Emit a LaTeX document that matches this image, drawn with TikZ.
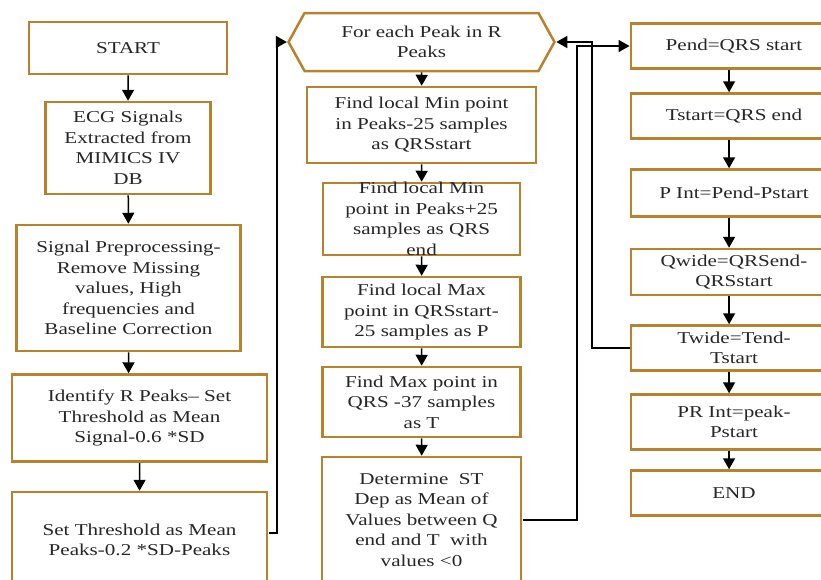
\documentclass[tikz,border=0pt]{standalone}
\usepackage{fontspec}
\setmainfont{Liberation Serif}
\usepackage{xcolor}
\usetikzlibrary{arrows.meta}
\usetikzlibrary{shapes.symbols}
\definecolor{bx}{HTML}{B8822C}

\begin{document}
\begin{tikzpicture}[
      x = 0.7874pt, % one unit = one pixel, before the stretch
      y = -1pt,
      xscale = 1.27, % wide letters, as in the scan
      transform shape,
      > = {Triangle[length=11pt, width=12pt]}, % arrow head style
      line width = 1.5pt, % line style
      font = \fontsize{16.6}{20.5}\selectfont,
    ]

    \tikzstyle{box}=[
      draw = bx,
      line width = 2.5pt,
      fill = white,
      text = black!85,
      align = center,
      inner sep = 0pt
    ]

    \useasboundingbox (0,0) rectangle (821,579);

    % left column
    \node[box, minimum width=155.9pt, minimum height=52pt] (start) [at={(128,48)}] {START};
    \node[box, minimum width=129.9pt, minimum height=92pt] (ecg) [at={(128,148)}] {ECG Signals\\Extracted from\\MIMICS IV\\DB};
    \node[box, minimum width=176.4pt, minimum height=126pt] (prep) [at={(128.5,288)}] {Signal Preprocessing-\\Remove Missing\\values, High\\frequencies and\\Baseline Correction};
    \node[box, minimum width=200.8pt, minimum height=87pt] (ridf) [at={(139.5,418)}] {Identify R Peaks-- Set\\Threshold as Mean\\Signal-0.6 *SD};
    \node[box, minimum width=200.8pt, minimum height=96pt] (thr) [at={(139.5,540)}] {Set Threshold as Mean\\Peaks-0.2 *SD-Peaks};

    % middle column
    \node[box, signal, signal to=west and east, signal pointer angle=133, minimum width=209.4pt, minimum height=58pt] (hex) [at={(421.5,42)}] {For each Peak in R\\Peaks};
    \node[box, minimum width=180.3pt, minimum height=76pt] (m1) [at={(421.5,125)}] {Find local Min point\\in Peaks-25 samples\\as QRSstart};
    \node[box, minimum width=155.1pt, minimum height=72pt,
      label={[align=center, text=black!85]center:Find local Min\\point in Peaks+25\\samples as QRS\\end}] (m2) [at={(421.5,219)}] {};
    \node[box, minimum width=155.9pt, minimum height=70pt] (m3) [at={(421.5,312)}] {Find local Max\\point in QRSstart-\\25 samples as P};
    \node[box, minimum width=155.9pt, minimum height=70pt] (m4) [at={(421.5,402)}] {Find Max point in\\QRS -37 samples\\as T};
    \node[box, minimum width=156.7pt, minimum height=126pt] (det) [at={(421.5,520)}] {Determine\ \ ST\\Dep as Mean of\\Values between Q\\end and T\ \ with\\values <0};

    % right column
    \node[box, minimum width=162.2pt, minimum height=45pt] (pend) [at={(734,46)}] {Pend=QRS start};
    \node[box, minimum width=162.2pt, minimum height=45pt] (tst) [at={(734,116)}] {Tstart=QRS end};
    \node[box, minimum width=162.2pt, minimum height=47pt] (pint) [at={(734,193)}] {P Int=Pend-Pstart};
    \node[box, minimum width=162.2pt, minimum height=46pt] (qw) [at={(734,272)}] {Qwide=QRSend-\\QRSstart};
    \node[box, minimum width=162.2pt, minimum height=45pt] (tw) [at={(734,348)}] {Twide=Tend-\\Tstart};
    \node[box, minimum width=162.2pt, minimum height=55pt] (pr) [at={(734,422)}] {PR Int=peak-\\Pstart};
    \node[box, minimum width=162.2pt, minimum height=45pt] (fin) [at={(734,493)}] {END};

    \path[->] (start) edge (ecg);
    \path[->] (ecg) edge (prep);
    \path[->] (prep) edge (ridf.north -| prep.south);
    \path[->] (ridf) edge (thr);

    \path[->] (hex) edge (m1);
    \path[->] (m1) edge (m2);
    \path[->] (m2) edge (m3);
    \path[->] (m3) edge (m4);
    \path[->] (m4) edge (det);

    \path[->] ([xshift=-4pt]pend.south) edge ([xshift=-4pt]tst.north);
    \path[->] ([xshift=-4pt]tst.south) edge ([xshift=-4pt]pint.north);
    \path[->] ([xshift=-4pt]pint.south) edge ([xshift=-4pt]qw.north);
    \path[->] ([xshift=-4pt]qw.south) edge ([xshift=-4pt]tw.north);
    \path[->] ([xshift=-4pt]tw.south) edge ([xshift=-4pt]pr.north);
    \path[->] ([xshift=-4pt]pr.south) edge ([xshift=-4pt]fin.north);

    % loops back to the top
    \coordinate (back) at (277,0);
    \coordinate (cross) at (577,0);
    \coordinate (ret) at (592,0);
    \draw[->] ([yshift=7pt]thr.east) -| (back |- hex.west) -- (hex.west);
    \draw[->] (det.east) -| (cross |- pend.west) -- (pend.west);
    \draw[->] (tw.west) -| (ret |- hex.east) -- (hex.east);
  \end{tikzpicture}
\end{document}
